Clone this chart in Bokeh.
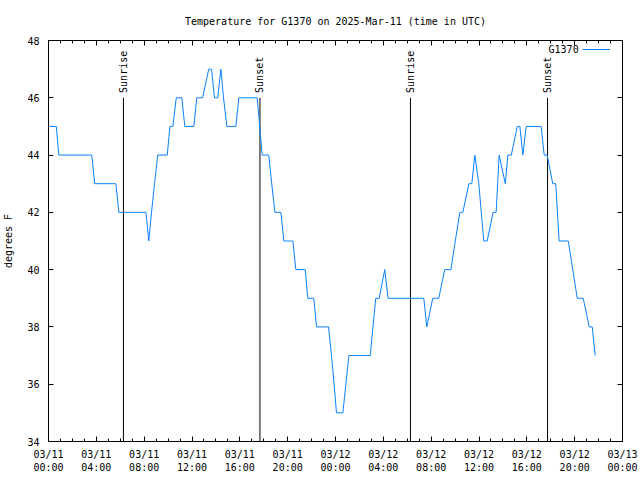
import math
import pandas as pd
from bokeh.plotting import figure
from bokeh.models import (DatetimeAxis, LinearAxis, FixedTicker, DatetimeTickFormatter, Range1d,
                          Legend, LegendItem, Label, ColumnDataSource, CustomJSTickFormatter)
from bokeh.embed import file_html
from bokeh.resources import INLINE
from bokeh.core.properties import value

# ---- data ----
times = [
    "2025-03-11 00:05", "2025-03-11 00:39", "2025-03-11 00:52", "2025-03-11 03:37",
    "2025-03-11 03:52", "2025-03-11 05:38", "2025-03-11 05:53", "2025-03-11 08:09",
    "2025-03-11 08:23", "2025-03-11 08:37", "2025-03-11 08:52", "2025-03-11 09:08",
    "2025-03-11 09:56", "2025-03-11 10:09", "2025-03-11 10:24", "2025-03-11 10:41",
    "2025-03-11 11:09", "2025-03-11 11:24", "2025-03-11 12:09", "2025-03-11 12:24",
    "2025-03-11 12:53", "2025-03-11 13:24", "2025-03-11 13:38", "2025-03-11 13:53",
    "2025-03-11 14:09", "2025-03-11 14:25", "2025-03-11 14:38", "2025-03-11 14:55",
    "2025-03-11 15:40", "2025-03-11 15:55", "2025-03-11 17:27", "2025-03-11 17:40",
    "2025-03-11 17:52", "2025-03-11 18:25", "2025-03-11 18:40", "2025-03-11 18:56",
    "2025-03-11 19:26", "2025-03-11 19:41", "2025-03-11 20:26", "2025-03-11 20:41",
    "2025-03-11 21:28", "2025-03-11 21:41", "2025-03-11 22:11", "2025-03-11 22:25",
    "2025-03-11 23:25", "2025-03-11 23:40", "2025-03-11 23:53", "2025-03-12 00:05",
    "2025-03-12 00:37", "2025-03-12 00:52", "2025-03-12 01:07", "2025-03-12 02:54",
    "2025-03-12 03:08", "2025-03-12 03:22", "2025-03-12 03:39", "2025-03-12 04:07",
    "2025-03-12 04:24", "2025-03-12 07:23", "2025-03-12 07:38", "2025-03-12 08:08",
    "2025-03-12 08:38", "2025-03-12 09:08", "2025-03-12 09:39", "2025-03-12 10:01",
    "2025-03-12 10:24", "2025-03-12 10:39", "2025-03-12 11:09", "2025-03-12 11:24",
    "2025-03-12 11:39", "2025-03-12 11:59", "2025-03-12 12:24", "2025-03-12 12:41",
    "2025-03-12 13:11", "2025-03-12 13:26", "2025-03-12 13:41", "2025-03-12 14:12",
    "2025-03-12 14:25", "2025-03-12 14:42", "2025-03-12 15:12", "2025-03-12 15:25",
    "2025-03-12 15:40", "2025-03-12 15:57", "2025-03-12 17:12", "2025-03-12 17:27",
    "2025-03-12 17:42", "2025-03-12 18:10", "2025-03-12 18:25", "2025-03-12 18:42",
    "2025-03-12 19:28", "2025-03-12 20:13", "2025-03-12 20:43", "2025-03-12 21:13",
    "2025-03-12 21:28", "2025-03-12 21:43",
]
temps = [
    45, 45, 44, 44,
    43, 43, 42, 42,
    41, 42, 43, 44,
    44, 45, 45, 46,
    46, 45, 45, 46,
    46, 47, 47, 46,
    46, 47, 46, 45,
    45, 46, 46, 45,
    44, 44, 43, 42,
    42, 41, 41, 40,
    40, 39, 39, 38,
    38, 37, 36, 35,
    35, 36, 37, 37,
    38, 39, 39, 40,
    39, 39, 38, 39,
    39, 40, 40, 41,
    42, 42, 43, 43,
    44, 43, 41, 41,
    42, 42, 44, 43,
    44, 44, 45, 45,
    44, 45, 45, 44,
    44, 43, 43, 41,
    41, 39, 39, 38,
    38, 37,
]
event_times = ["2025-03-11 06:16", "2025-03-11 17:41", "2025-03-12 06:16", "2025-03-12 17:44"]
event_labels = ["Sunrise", "Sunset", "Sunrise", "Sunset"]
series_name = "G1370"
y_ticks = [34, 36, 38, 40, 42, 44, 46, 48]
x_start, x_end = "2025-03-11 00:00", "2025-03-13 00:00"

FONT = "DejaVu Sans Mono"
LINE_COLOR = "#0a80ff"

def to_ms(ts):
    return pd.DatetimeIndex(pd.to_datetime(ts)).as_unit("ms").asi8.tolist()

t_ms = to_ms(times)
ev_ms = to_ms(event_times)
major = to_ms(pd.date_range(x_start, x_end, freq="4h"))
minor = to_ms(pd.date_range(x_start, x_end, freq="1h"))
x0, x1 = to_ms([x_start, x_end])

p = figure(width=640, height=476, x_axis_type="datetime",
           x_range=Range1d(x0, x1), y_range=Range1d(y_ticks[0], y_ticks[-1]),
           output_backend="svg", toolbar_location=None,
           min_border_left=48, min_border_right=18, min_border_top=40, min_border_bottom=35)

p.title.text = "Temperature for G1370 on 2025-Mar-11 (time in UTC)"
p.title.align = "center"
p.title.text_font = FONT
p.title.text_font_size = "10px"
p.title.text_font_style = "normal"
p.title.text_color = "black"
p.title.offset = 0
p.title.standoff = 27

p.xgrid.visible = False
p.ygrid.visible = False
p.outline_line_color = "black"
p.outline_line_alpha = 1
p.outline_line_width = 1
p.background_fill_color = "white"
p.border_fill_color = "white"

xt = FixedTicker(ticks=major, minor_ticks=minor)
fmt_str = "%m/%d\n%H:%M"
fmt = DatetimeTickFormatter(hours=fmt_str, days=fmt_str, hourmin=fmt_str, minutes=fmt_str,
                            minsec=fmt_str, months=fmt_str, years=fmt_str)
blank = CustomJSTickFormatter(code="return ''")

def style_x(ax, labels=True):
    ax.ticker = xt
    ax.formatter = fmt if labels else blank
    ax.major_tick_in = 5
    ax.major_tick_out = 0
    ax.minor_tick_in = 3
    ax.minor_tick_out = 0
    ax.axis_line_color = "black"
    ax.major_tick_line_color = "black"
    ax.minor_tick_line_color = "black"
    ax.major_label_text_font = FONT
    ax.major_label_text_font_size = "10px"
    ax.major_label_text_color = "black"
    ax.major_label_standoff = 7 if labels else 0

style_x(p.xaxis[0])
top_ax = DatetimeAxis()
style_x(top_ax, labels=False)
p.add_layout(top_ax, "above")

yt = FixedTicker(ticks=y_ticks, minor_ticks=[])

def style_y(ax, labels=True):
    ax.ticker = yt
    if not labels:
        ax.formatter = blank
    ax.major_tick_in = 5
    ax.major_tick_out = 0
    ax.minor_tick_in = 0
    ax.minor_tick_out = 0
    ax.axis_line_color = "black"
    ax.major_tick_line_color = "black"
    ax.major_label_text_font = FONT
    ax.major_label_text_font_size = "10px"
    ax.major_label_text_color = "black"
    ax.major_label_standoff = 9 if labels else 0

style_y(p.yaxis[0])
p.yaxis[0].axis_label = "degrees F"
p.yaxis[0].axis_label_text_font = FONT
p.yaxis[0].axis_label_text_font_size = "10px"
p.yaxis[0].axis_label_text_font_style = "normal"
p.yaxis[0].axis_label_text_color = "black"
p.yaxis[0].axis_label_standoff = 10
right_ax = LinearAxis()
style_y(right_ax, labels=False)
p.add_layout(right_ax, "right")

# sunrise / sunset markers
ev_src = ColumnDataSource(dict(x=ev_ms, y0=[y_ticks[0]] * len(ev_ms), y1=[46] * len(ev_ms),
                               ty=[46.17] * len(ev_ms), label=event_labels))
p.segment(x0="x", y0="y0", x1="x", y1="y1", source=ev_src, line_color="black", line_width=1)
p.text(x="x", y="ty", text="label", source=ev_src, angle=math.pi / 2,
       text_align="left", text_baseline="middle",
       text_font=value(FONT), text_font_size="10px", text_color="black")

# temperature line
src = ColumnDataSource(dict(t=t_ms, temp=temps))
r = p.line(x="t", y="temp", source=src, line_color=LINE_COLOR, line_width=1)

# legend: name at left, sample line at right (gnuplot style)
leg = Legend(items=[LegendItem(label=" ", renderers=[r])], location=(534, 387),
             glyph_width=28, glyph_height=10, label_width=0, label_standoff=0,
             padding=0, margin=0, spacing=0, border_line_color=None,
             background_fill_alpha=0, label_text_font_size="10px")
p.add_layout(leg)
p.add_layout(Label(x=to_ms(["2025-03-12 20:20"])[0], y=47.68, text=series_name,
                   text_align="right", text_baseline="middle",
                   text_font=FONT, text_font_size="10px", text_color="black"))

open("out.html", "w").write(file_html(p, INLINE))
